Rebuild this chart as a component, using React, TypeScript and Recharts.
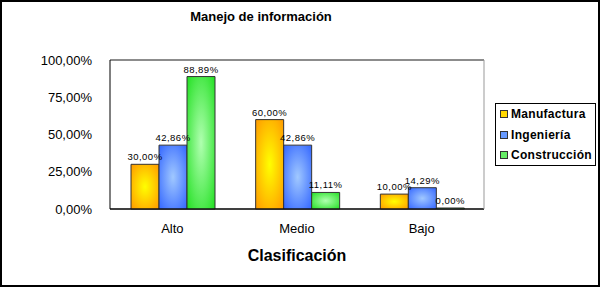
import React from 'react';
import { BarChart, Bar, XAxis, YAxis, CartesianGrid, LabelList, ReferenceLine } from 'recharts';

const categories = ['Alto', 'Medio', 'Bajo'];
const manufactura = [30, 60, 10];
const ingenieria = [42.86, 42.86, 14.29];
const construccion = [88.89, 11.11, 0];
const yTicks = [0, 25, 50, 75, 100];
const seriesNames = ['Manufactura', 'Ingeniería', 'Construcción'];

const data = categories.map((c, i) => ({
  cat: c,
  Manufactura: manufactura[i],
  'Ingeniería': ingenieria[i],
  'Construcción': construccion[i],
}));

const fmt = (v: any) => Number(v).toFixed(2).replace('.', ',') + '%';

const colors = [
  { id: 'gOrange', edge: '#FF9900', center: '#FFFF00', legend: '#FFD700' },
  { id: 'gBlue', edge: '#3366FF', center: '#A0C8FF', legend: '#6699FF' },
  { id: 'gGreen', edge: '#22E022', center: '#B0FFB0', legend: '#66EE66' },
];

const FONT = 'Arial, "Liberation Sans", sans-serif';

export default function App() {
  return (
    <div
      style={{
        position: 'absolute',
        left: 0,
        top: 0,
        width: 600,
        height: 287,
        background: '#fff',
        fontFamily: FONT,
      }}
    >
      <BarChart
        width={600}
        height={287}
        data={data}
        margin={{ top: 60, right: 115, left: 0, bottom: 48 }}
        barGap={0}
        barCategoryGap={21}
      >
        <defs>
          {colors.map((c) => (
            <radialGradient key={c.id} id={c.id} cx="50%" cy="50%" r="70%">
              <stop offset="0%" stopColor={c.center} />
              <stop offset="100%" stopColor={c.edge} />
            </radialGradient>
          ))}
        </defs>
        <CartesianGrid vertical={false} stroke="#000" strokeWidth={1} />
        <XAxis
          dataKey="cat"
          axisLine={{ stroke: '#000' }}
          tickLine={false}
          tick={{ fill: '#000', fontSize: 13, fontFamily: FONT }}
          tickMargin={9}
          height={30}
        />
        <YAxis
          yAxisId="left"
          domain={[0, 100]}
          ticks={yTicks}
          tickFormatter={fmt}
          axisLine={{ stroke: '#000' }}
          tickLine={false}
          tick={{ fill: '#000', fontSize: 13, fontFamily: FONT }}
          tickMargin={12}
          width={110}
        />
        <YAxis
          yAxisId="right"
          orientation="right"
          domain={[0, 100]}
          axisLine={{ stroke: '#999' }}
          tick={false}
          tickLine={false}
          width={1}
        />
        <ReferenceLine yAxisId="left" y={100} stroke="#999" />
        {seriesNames.map((n, i) => (
          <Bar
            key={n}
            yAxisId="left"
            dataKey={n}
            fill={`url(#${colors[i].id})`}
            stroke="#333"
            strokeWidth={1}
            minPointSize={1}
            isAnimationActive={false}
          >
            <LabelList
              dataKey={n}
              position="top"
              offset={4}
              formatter={fmt}
              style={{ fontSize: 9.5, fill: '#000', fontFamily: FONT, letterSpacing: 0.5 }}
            />
          </Bar>
        ))}
      </BarChart>
      <div
        style={{
          position: 'absolute',
          left: 495,
          top: 103,
          border: '1px solid #000',
          background: '#fff',
          width: 101,
          height: 63,
          boxSizing: 'border-box',
          padding: '0 0 0 4px',
          fontWeight: 'bold',
          fontSize: 12,
          color: '#000',
        }}
      >
        {seriesNames.map((n, i) => (
          <div key={n} style={{ display: 'flex', alignItems: 'center', height: 20.5 }}>
            <span
              style={{
                display: 'inline-block',
                width: 6,
                height: 6,
                border: '1px solid #333',
                background: colors[i].legend,
                marginRight: 3,
              }}
            />
            <span style={{ letterSpacing: 0.3 }}>{n}</span>
          </div>
        ))}
      </div>
      <div
        style={{
          position: 'absolute',
          left: 0,
          top: 9,
          width: 522,
          textAlign: 'center',
          fontWeight: 'bold',
          fontSize: 13,
        }}
      >
        Manejo de información
      </div>
      <div
        style={{
          position: 'absolute',
          left: 110,
          top: 247,
          width: 374,
          textAlign: 'center',
          fontWeight: 'bold',
          fontSize: 16,
        }}
      >
        Clasificación
      </div>
      <div
        style={{
          position: 'absolute',
          left: 0,
          top: 0,
          width: 600,
          height: 287,
          border: '2px solid #000',
          boxSizing: 'border-box',
          pointerEvents: 'none',
        }}
      />
    </div>
  );
}
